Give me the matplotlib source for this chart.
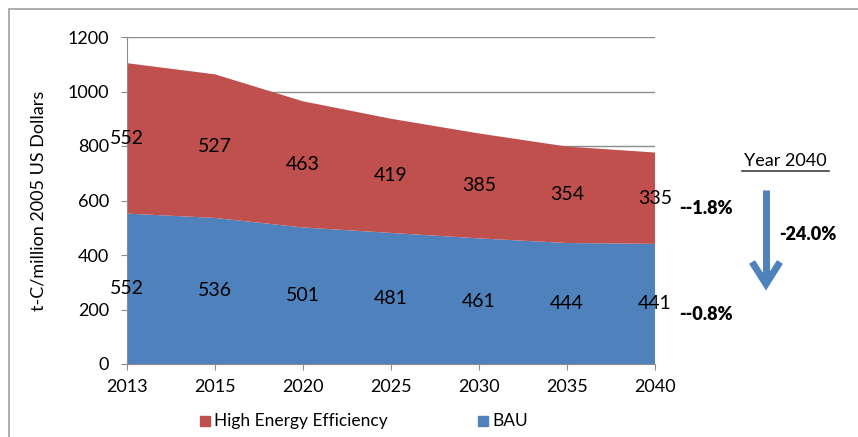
import numpy as np
import matplotlib.pyplot as plt
from matplotlib.patches import Rectangle

years = ["2013", "2015", "2020", "2025", "2030", "2035", "2040"]
bau = [552, 536, 501, 481, 461, 444, 441]
high_eff = [552, 527, 463, 419, 385, 354, 335]
yticks = [0, 200, 400, 600, 800, 1000, 1200]

red = "#c0504d"
blue = "#4f81bd"
grey = "#8c8c8c"

plt.rcParams['font.family'] = ['Lato', 'DejaVu Sans']

fig = plt.figure(figsize=(8.58, 4.37), dpi=100)
ax = fig.add_axes([127/858, 1 - 364/437, (655 - 127)/858, (364 - 37)/437])

x = np.arange(len(years))
ax.stackplot(x, bau, high_eff, colors=[blue, red], zorder=2)

ax.set_xlim(0, len(years) - 1)
ax.set_ylim(0, 1200)
ax.set_xticks(x)
ax.set_xticklabels(years, fontsize=13)
ax.set_yticks(yticks)
ax.set_yticklabels([str(t) for t in yticks], fontsize=13)
ax.yaxis.grid(True, color=grey, linewidth=1, zorder=0)
ax.set_axisbelow(True)
for s in ["top", "right"]:
    ax.spines[s].set_visible(False)
for s in ["left", "bottom"]:
    ax.spines[s].set_color(grey)
ax.tick_params(axis="both", colors=grey, length=4, labelcolor="black")
ax.tick_params(axis="y", pad=9)
ax.tick_params(axis="x", pad=7)
ax.set_ylabel("t-C/million 2005 US Dollars", fontsize=13)
ax.yaxis.set_label_coords(-0.152, 0.5)

# data labels
for i in x:
    ax.text(i, bau[i] / 2, str(bau[i]), ha="center", va="center", fontsize=14, zorder=5)
    ax.text(i, bau[i] + high_eff[i] / 2, str(high_eff[i]), ha="center", va="center",
            fontsize=14, zorder=5)

# annotations on the right
fig.text(679/858, 1 - 208/437, "--1.8%", fontsize=13, fontweight="heavy", va="center")
fig.text(679/858, 1 - 315/437, "--0.8%", fontsize=13, fontweight="heavy", va="center")
fig.text(779/858, 1 - 234/437, "-24.0%", fontsize=13, fontweight="heavy", va="center")
fig.text(785/858, 1 - 161/437, "Year 2040", fontsize=13, ha="center", va="center")
fig.add_artist(plt.Line2D([742/858, 829/858], [1 - 171/437, 1 - 171/437],
                          color="#404040", linewidth=1.2))
fig.add_artist(plt.Line2D([766/858, 766/858], [1 - 190/437, 1 - 284/437],
                          color=blue, linewidth=5, solid_capstyle="butt"))
fig.add_artist(plt.Line2D([752/858, 766/858, 780/858],
                          [1 - 262/437, 1 - 284/437, 1 - 262/437],
                          color=blue, linewidth=5, solid_joinstyle="miter",
                          solid_capstyle="butt"))

# legend
fig.add_artist(Rectangle((200/858, 1 - 426/437), 10/858, 10/437, color=red,
                         transform=fig.transFigure))
fig.text(214/858, 1 - 421/437, "High Energy Efficiency", fontsize=12.5, va="center")
fig.add_artist(Rectangle((478/858, 1 - 426/437), 10/858, 10/437, color=blue,
                         transform=fig.transFigure))
fig.text(492/858, 1 - 421/437, "BAU", fontsize=12.5, va="center")

# outer chart border
fig.add_artist(Rectangle((9/858, -0.1), 1, 1 - 9/437 + 0.1, fill=False, edgecolor="#a0a0a0",
                         linewidth=1.2, transform=fig.transFigure))

fig.savefig("out.png", dpi=100)
